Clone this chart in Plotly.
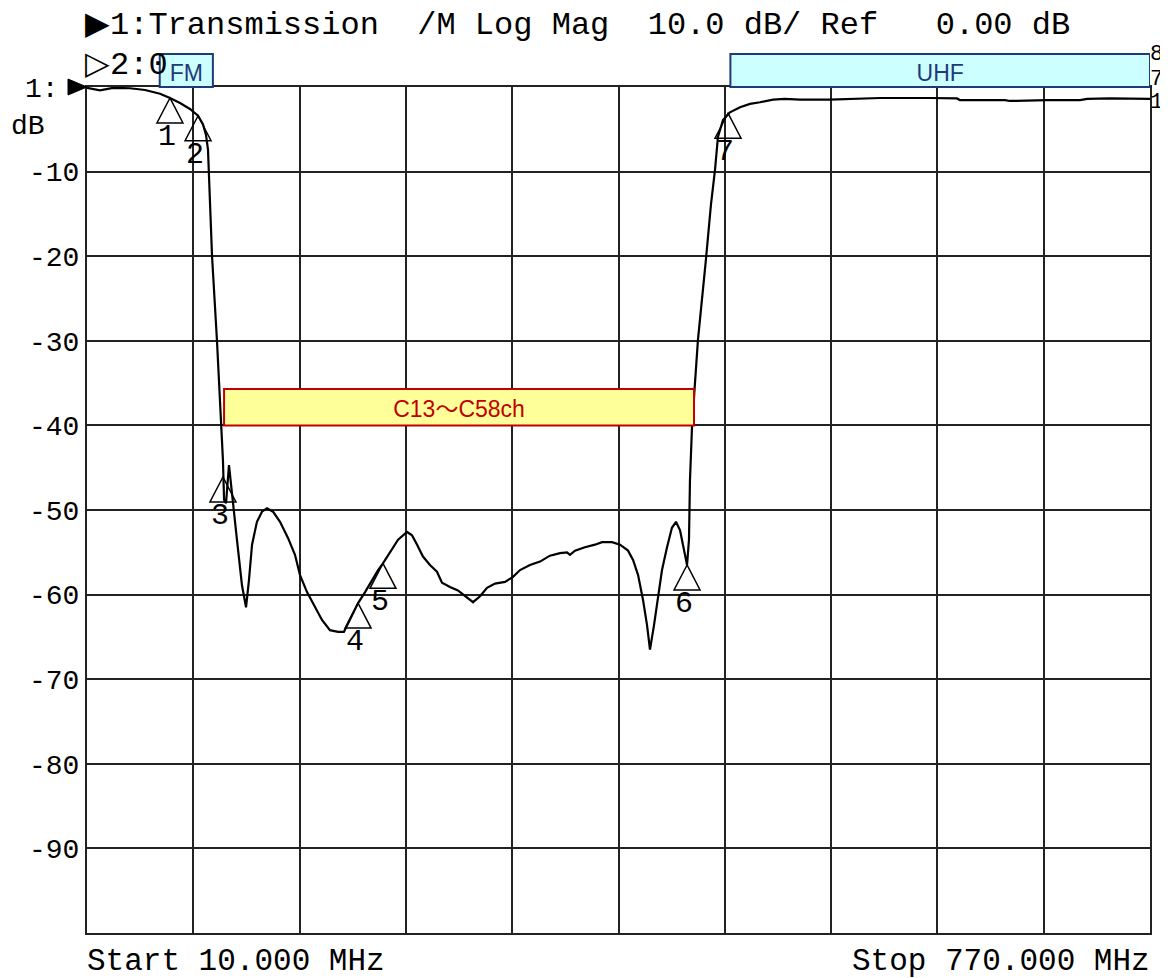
import plotly.graph_objects as go

# ---- data ----
freq_mhz = [10, 19.3, 28.6, 40.7, 51.5, 62.2, 69.3, 76.5, 83.6, 89.4, 92.9, 95.1, 96.5, 97.2,
            99.4, 102.9, 105.8, 107.2, 108.0, 109.4, 111.5, 114.4, 117.2, 120.8, 123.7, 125.8,
            128.0, 131.5, 135.1, 138.7, 143.0, 148.0, 153.7, 158.7, 162.3, 167.3, 173.0, 178.0,
            183.7, 189.5, 193.7, 198.0, 203.8, 208.8, 213.8, 218.1, 221.6, 226.6, 232.4, 238.8,
            242.4, 246.0, 250.2, 255.2, 260.2, 263.8, 269.5, 275.2, 280.3, 286.0, 291.0, 296.0,
            301.7, 308.9, 314.6, 319.6, 326.7, 333.9, 341.0, 348.2, 353.2, 355.3, 358.9, 366.0,
            373.2, 378.2, 385.4, 391.1, 396.8, 400.4, 404.0, 407.5, 410.4, 412.5, 415.4, 418.2,
            421.1, 424.7, 428.2, 431.1, 434.0, 436.8, 439.0, 440.4, 441.1, 442.6, 446.8, 452.5,
            456.1, 459.0, 461.1, 464.7, 469.7, 476.9, 484.0, 491.2, 500.5, 509.0, 519.8, 541.2,
            557.7, 577.0, 612.7, 632.0, 634.2, 666.3, 669.9, 696.4, 720.0, 725.0, 741.4, 770.0]
gain_db = [-0.1, -0.4, -0.1, -0.15, -0.35, -0.8, -1.3, -1.9, -2.6, -3.4, -4.4, -5.7, -7.4, -10.0,
           -20.0, -29.9, -40.0, -44.1, -48.8, -49.2, -44.7, -48.8, -53.5, -58.9, -61.5, -58.3,
           -54.1, -51.4, -50.2, -49.8, -50.2, -51.4, -53.3, -55.3, -57.7, -59.7, -61.5, -63.0,
           -64.2, -64.4, -64.4, -63.0, -61.0, -59.7, -58.3, -57.1, -56.3, -55.0, -53.5, -52.6,
           -53.0, -54.1, -55.5, -56.5, -57.3, -58.6, -59.1, -59.5, -60.2, -60.9, -60.2, -59.2,
           -58.7, -58.5, -57.9, -57.1, -56.5, -56.1, -55.4, -55.1, -55.0, -55.3, -54.8, -54.4,
           -54.1, -53.8, -53.8, -54.1, -54.8, -55.9, -57.7, -60.6, -63.6, -66.5, -63.6, -60.3,
           -57.1, -54.4, -52.1, -51.4, -52.4, -54.7, -56.5, -53.5, -46.5, -40.0, -29.9, -20.4,
           -13.9, -9.8, -5.9, -3.9, -3.0, -2.4, -2.0, -1.8, -1.5, -1.4, -1.5, -1.5,
           -1.4, -1.3, -1.3, -1.35, -1.55, -1.55, -1.65, -1.55, -1.55, -1.4, -1.35, -1.4]

marker_ids = ["1", "2", "3", "4", "5", "6", "7"]
marker_freq = [69.3, 89.4, 107.2, 203.8, 221.6, 439.0, 468.3]
marker_db = [-1.3, -3.4, -46.1, -61.0, -56.3, -56.5, -3.1]

y_tick_vals = [-10, -20, -30, -40, -50, -60, -70, -80, -90]
y_tick_text = ["-10", "-20", "-30", "-40", "-50", "-60", "-70", "-80", "-90"]

top_bands = [("FM", 62, 100), ("UHF", 470, 770)]
ch_band_label = "C13～C58ch"
ch_band_freq = [108, 444]
ch_band_db = [-40, -35.7]

header_1 = "▶1:Transmission  /M Log Mag  10.0 dB/ Ref   0.00 dB"
header_2 = "▷2:0"
start_text = "Start 10.000 MHz"
stop_text = "Stop 770.000 MHz"
edge_glyphs = ["8", "7", "1"]

MONO = "Liberation Mono"
SANS = "Liberation Sans, Noto Sans CJK JP"

fig = go.Figure()
fig.add_trace(go.Scatter(x=freq_mhz, y=gain_db, mode="lines",
                         line=dict(color="black", width=2.2), showlegend=False,
                         hoverinfo="skip"))

shapes = []
annotations = []

# marker triangles and numbers
for mid, f, d in zip(marker_ids, marker_freq, marker_db):
    shapes.append(dict(type="path", xref="x", yref="y", xsizemode="pixel", ysizemode="pixel",
                       xanchor=f, yanchor=d, path="M0,0 L-13,-25 L13,-25 Z",
                       line=dict(color="black", width=1.5), fillcolor="rgba(0,0,0,0)"))
    annotations.append(dict(x=f, y=d, xref="x", yref="y", text=mid, showarrow=False,
                            xshift=-3, yshift=-39,
                            font=dict(family=MONO, size=30, color="black")))

# top bands (FM / UHF)
for label, f0, f1 in top_bands:
    shapes.append(dict(type="rect", xref="x", yref="paper", x0=f0, x1=f1, y0=1.0, y1=1.039,
                       fillcolor="#ccffff", line=dict(color="#1f3a78", width=2), layer="above",
                       label=dict(text=label, textposition="middle center",
                                  font=dict(family=SANS, size=23, color="#1f3a78"))))

# channel band box
shapes.append(dict(type="rect", xref="x", yref="y", x0=ch_band_freq[0], x1=ch_band_freq[1],
                   y0=ch_band_db[0], y1=ch_band_db[1], fillcolor="#ffff99",
                   line=dict(color="#c00000", width=2), layer="above",
                   label=dict(text=ch_band_label, textposition="middle center",
                              font=dict(family=SANS, size=23, color="#c00000"))))

# reference arrow at left (filled)
shapes.append(dict(type="path", xref="paper", yref="paper", xsizemode="pixel", ysizemode="pixel",
                   xanchor=0, yanchor=1, path="M0,0 L-19,8 L-19,-8 Z",
                   fillcolor="black", line=dict(color="black", width=1)))

# header texts
annotations.append(dict(x=0, y=1, xref="paper", yref="paper", text=header_1, showarrow=False,
                        xanchor="left", yanchor="middle", xshift=-4, yshift=62,
                        font=dict(family=MONO, size=32, color="black")))
annotations.append(dict(x=0, y=1, xref="paper", yref="paper", text=header_2, showarrow=False,
                        xanchor="left", yanchor="middle", xshift=-4, yshift=22,
                        font=dict(family=MONO, size=32, color="black")))
annotations.append(dict(x=0, y=1, xref="paper", yref="paper", text="1:", showarrow=False,
                        xanchor="right", yanchor="middle", xshift=-26, yshift=-2,
                        font=dict(family=MONO, size=28, color="black")))
annotations.append(dict(x=0, y=1, xref="paper", yref="paper", text="dB", showarrow=False,
                        xanchor="right", yanchor="middle", xshift=-40, yshift=-39,
                        font=dict(family=MONO, size=28, color="black")))
annotations.append(dict(x=0, y=0, xref="paper", yref="paper", text=start_text, showarrow=False,
                        xanchor="left", yanchor="middle", xshift=-2, yshift=-28,
                        font=dict(family=MONO, size=31, color="black")))
annotations.append(dict(x=1, y=0, xref="paper", yref="paper", text=stop_text, showarrow=False,
                        xanchor="right", yanchor="middle", xshift=2, yshift=-28,
                        font=dict(family=MONO, size=31, color="black")))
# right-edge glyphs
for txt, ys in zip(edge_glyphs, [33, 8, -15]):
    annotations.append(dict(x=1, y=1, xref="paper", yref="paper", text=txt, showarrow=False,
                            xanchor="left", yanchor="middle", xshift=-2, yshift=ys,
                            font=dict(family=MONO, size=22, color="black")))

fig.update_layout(
    width=1168, height=978,
    margin=dict(l=79, r=26, t=79, b=53),
    plot_bgcolor="white", paper_bgcolor="white",
    showlegend=False,
    shapes=shapes, annotations=annotations,
    xaxis=dict(range=[10, 770], tick0=10, dtick=76, showgrid=True, gridcolor="#222",
               gridwidth=1.5, showline=True, mirror=True, linecolor="#222", linewidth=2,
               showticklabels=False, zeroline=False, ticks=""),
    yaxis=dict(range=[-100, 0], tickvals=y_tick_vals, ticktext=y_tick_text, showgrid=True,
               gridcolor="#222", gridwidth=1.5, showline=True, mirror=True, linecolor="#222",
               linewidth=2, zeroline=False, ticks="",
               tickfont=dict(family=MONO, size=28, color="black")),
)

fig.write_html("out.html")
